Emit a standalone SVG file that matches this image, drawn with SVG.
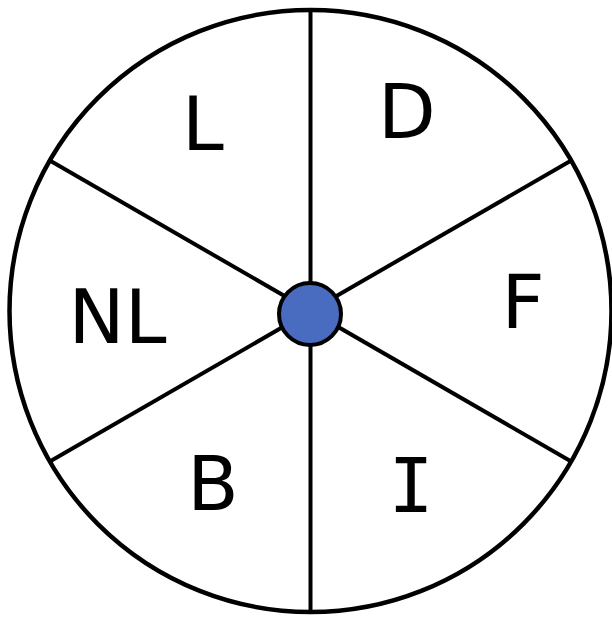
<svg xmlns="http://www.w3.org/2000/svg" width="612" height="617" viewBox="0 0 612 617">
  <style>
    .rim { fill: #ffffff; stroke: #000000; stroke-width: 4.5; }
    .spoke { stroke: #000000; stroke-width: 4; fill: none; }
    .hub { fill: #4A6CC0; stroke: #000000; stroke-width: 4; }
    .lbl { font-family: "DejaVu Sans", Verdana, sans-serif; font-size: 75px; fill: #000000; text-anchor: middle; }
    .lbl-serif-i { font-family: "DejaVu Sans Mono", monospace; }
  </style>
  <rect width="612" height="617" fill="#ffffff"/>
  <g id="wheel">
    <circle class="rim" cx="310.5" cy="311" r="301"/>
  </g>
  <g id="connectors">
    <line class="spoke" x1="310.5" y1="10" x2="310.5" y2="612"/>
    <line class="spoke" x1="49.8" y1="160.5" x2="571.2" y2="461.5"/>
    <line class="spoke" x1="49.8" y1="461.5" x2="571.2" y2="160.5"/>
  </g>
  <g id="hub">
    <circle class="hub" cx="310" cy="314" r="31"/>
  </g>
  <g id="node-L"><text class="lbl" x="203" y="150">L</text></g>
  <g id="node-D"><text class="lbl" x="407" y="138">D</text></g>
  <g id="node-NL"><text class="lbl" x="117.5" y="343">NL</text></g>
  <g id="node-F"><text class="lbl" x="523" y="328">F</text></g>
  <g id="node-B"><text class="lbl" x="213" y="510">B</text></g>
  <g id="node-I"><text class="lbl lbl-serif-i" x="411" y="512">I</text></g>
</svg>
